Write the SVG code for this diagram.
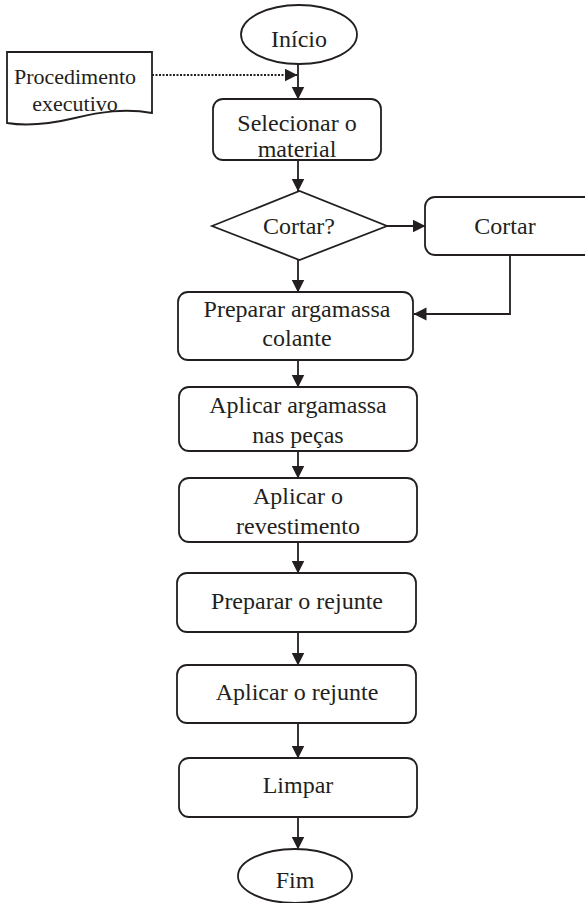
<svg xmlns="http://www.w3.org/2000/svg" width="585" height="903" viewBox="0 0 585 903">
  <style>
    .shape { fill: #ffffff; stroke: #231f20; stroke-width: 1.8; }
    .edge { fill: none; stroke: #231f20; stroke-width: 1.8; }
    .dotted { stroke-dasharray: 2 1.5; }
    text { font-family: "Liberation Serif", "Times New Roman", serif; font-size: 24px; fill: #231f20; text-anchor: middle; }
    .small { font-size: 22px; }
  </style>
  <defs>
    <marker id="arrow" markerUnits="userSpaceOnUse" markerWidth="14" markerHeight="14" refX="12.5" refY="6.5" orient="auto">
      <path d="M0,0 L13,6.5 L0,13 Z" fill="#231f20"/>
    </marker>
  </defs>
  <rect width="585" height="903" fill="#ffffff"/>

  <g id="connectors">
    <line class="edge" x1="298" y1="64" x2="298" y2="99" marker-end="url(#arrow)"/>
    <line class="edge dotted" x1="152" y1="75" x2="297" y2="75" marker-end="url(#arrow)"/>
    <line class="edge" x1="298" y1="160" x2="298" y2="191" marker-end="url(#arrow)"/>
    <line class="edge" x1="387" y1="226" x2="425" y2="226" marker-end="url(#arrow)"/>
    <line class="edge" x1="298" y1="260" x2="298" y2="292" marker-end="url(#arrow)"/>
    <polyline class="edge" points="510,255 510,314 414,314" marker-end="url(#arrow)"/>
    <line class="edge" x1="298" y1="360" x2="298" y2="387" marker-end="url(#arrow)"/>
    <line class="edge" x1="298" y1="451" x2="298" y2="478" marker-end="url(#arrow)"/>
    <line class="edge" x1="298" y1="542" x2="298" y2="573" marker-end="url(#arrow)"/>
    <line class="edge" x1="298" y1="632" x2="298" y2="665" marker-end="url(#arrow)"/>
    <line class="edge" x1="298" y1="723" x2="298" y2="758" marker-end="url(#arrow)"/>
    <line class="edge" x1="298" y1="817" x2="298" y2="849" marker-end="url(#arrow)"/>
  </g>

  <g id="inicio">
    <ellipse class="shape" cx="299" cy="34.5" rx="58" ry="29.5"/>
    <text x="299" y="47">Início</text>
  </g>

  <g id="procedimento">
    <path class="shape" d="M7,52 H152 V113 C125,108 100,112 75,118 C50,124 25,126 7,123 Z"/>
    <text class="small" x="75" y="84">Procedimento</text>
    <text class="small" x="75" y="111">executivo</text>
  </g>

  <g id="selecionar">
    <rect class="shape" x="213" y="99" width="168" height="61" rx="10"/>
    <text x="297" y="131">Selecionar o</text>
    <text x="297" y="157">material</text>
  </g>

  <g id="cortar-decisao">
    <polygon class="shape" points="212,226 299.5,191 387,226 299.5,260"/>
    <text x="299" y="234">Cortar?</text>
  </g>

  <g id="cortar">
    <rect class="shape" x="425" y="197" width="170" height="58" rx="10"/>
    <text x="505" y="234">Cortar</text>
  </g>

  <g id="preparar-argamassa">
    <rect class="shape" x="178" y="292" width="235" height="68" rx="10"/>
    <text x="297" y="317">Preparar argamassa</text>
    <text x="297" y="346">colante</text>
  </g>

  <g id="aplicar-argamassa">
    <rect class="shape" x="179" y="387" width="238" height="64" rx="10"/>
    <text x="298" y="413">Aplicar argamassa</text>
    <text x="298" y="443">nas peças</text>
  </g>

  <g id="aplicar-revestimento">
    <rect class="shape" x="179" y="478" width="238" height="64" rx="10"/>
    <text x="298" y="504">Aplicar o</text>
    <text x="298" y="534">revestimento</text>
  </g>

  <g id="preparar-rejunte">
    <rect class="shape" x="177" y="573" width="239" height="59" rx="10"/>
    <text x="297" y="609">Preparar o rejunte</text>
  </g>

  <g id="aplicar-rejunte">
    <rect class="shape" x="177" y="665" width="239" height="58" rx="10"/>
    <text x="297" y="700">Aplicar o rejunte</text>
  </g>

  <g id="limpar">
    <rect class="shape" x="179" y="758" width="238" height="59" rx="10"/>
    <text x="298" y="793">Limpar</text>
  </g>

  <g id="fim">
    <ellipse class="shape" cx="295" cy="876" rx="57" ry="27"/>
    <text x="295" y="888">Fim</text>
  </g>
</svg>
